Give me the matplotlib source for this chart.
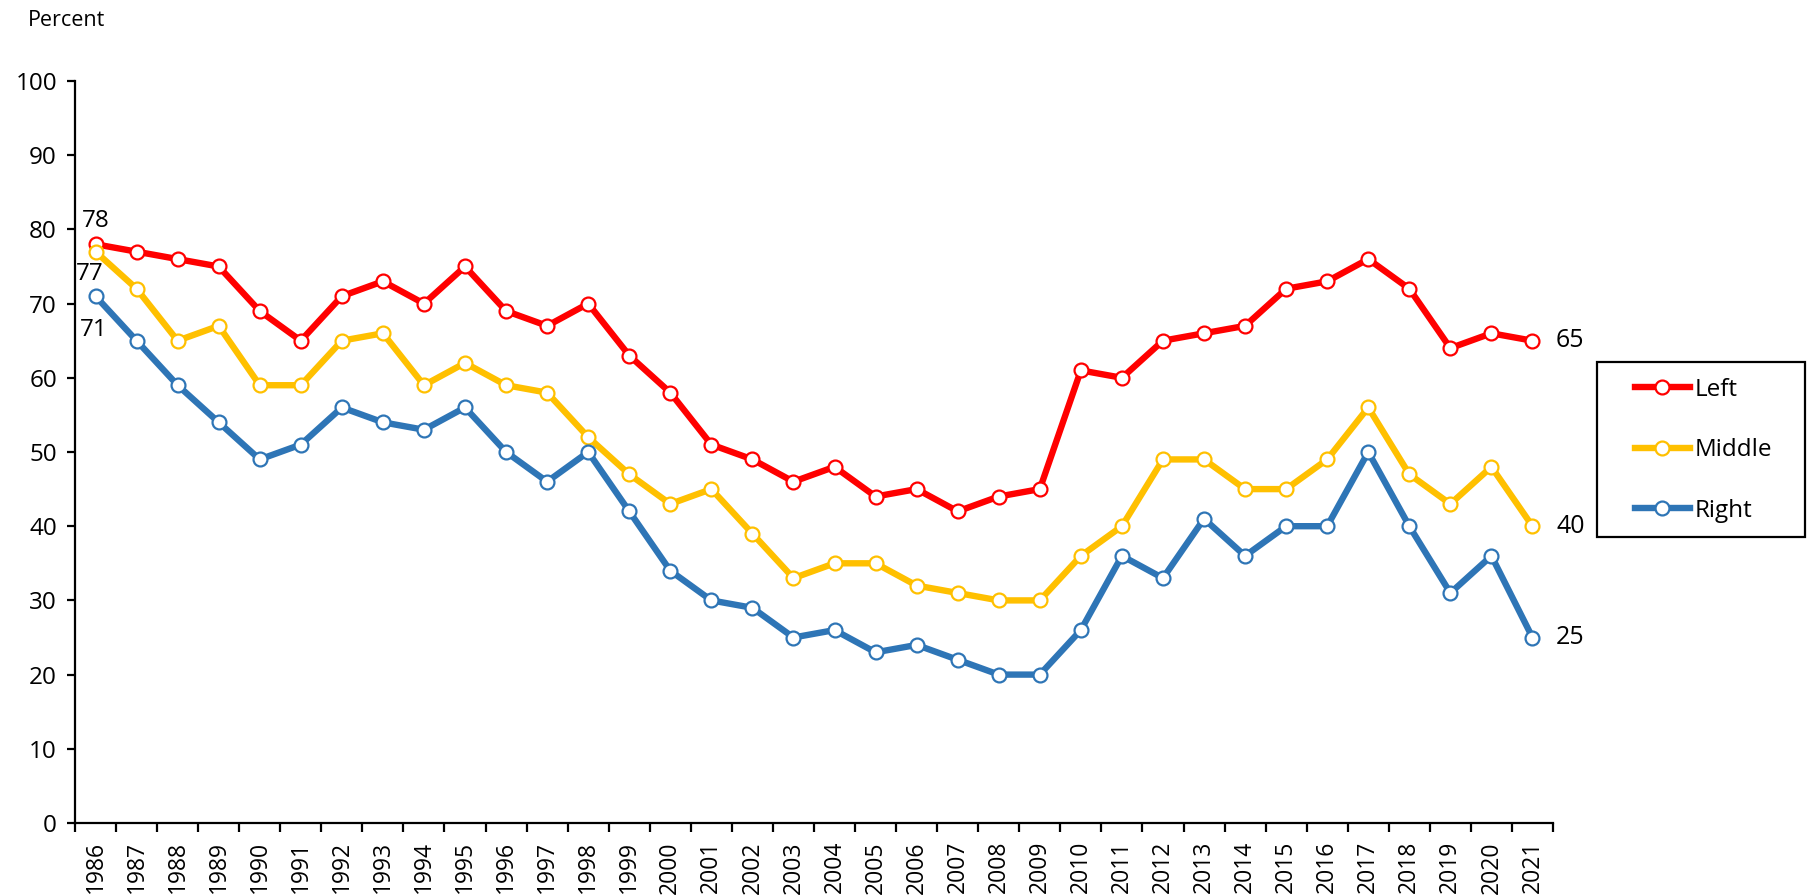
import numpy as np
import matplotlib.pyplot as plt
from matplotlib.patches import Rectangle

plt.rcParams['font.family'] = ['Open Sans', 'DejaVu Sans']

years = list(range(1986, 2022))
left = [78, 77, 76, 75, 69, 65, 71, 73, 70, 75, 69, 67, 70, 63, 58, 51, 49, 46,
        48, 44, 45, 42, 44, 45, 61, 60, 65, 66, 67, 72, 73, 76, 72, 64, 66, 65]
middle = [77, 72, 65, 67, 59, 59, 65, 66, 59, 62, 59, 58, 52, 47, 43, 45, 39, 33,
          35, 35, 32, 31, 30, 30, 36, 40, 49, 49, 45, 45, 49, 56, 47, 43, 48, 40]
right = [71, 65, 59, 54, 49, 51, 56, 54, 53, 56, 50, 46, 50, 42, 34, 30, 29, 25,
         26, 23, 24, 22, 20, 20, 26, 36, 33, 41, 36, 40, 40, 50, 40, 31, 36, 25]

series = [("Left", left, "#FF0000"),
          ("Middle", middle, "#FFC000"),
          ("Right", right, "#2E75B6")]

W, H = 1807, 896
fig = plt.figure(figsize=(W / 100, H / 100), dpi=100)
ax = fig.add_axes([75 / W, 1 - 823 / H, (1553 - 75) / W, (823 - 81) / H])

x = np.arange(len(years))
handles = []
for name, vals, col in series:
    h, = ax.plot(x, vals, color=col, lw=4.6, marker='o', ms=10,
                 mfc='white', mec=col, mew=1.6, label=name, zorder=3)
    handles.append(h)

ax.set_xlim(-0.5, len(years) - 0.5)
ax.set_ylim(0, 100)
ax.set_yticks(range(0, 101, 10))
ax.set_xticks(x)
ax.set_xticklabels([str(y) for y in years], rotation=90)
ax.set_xticks(np.arange(-0.5, len(years), 1), minor=True)
ax.tick_params(axis='x', which='major', length=0, pad=13, labelsize=16.5)
ax.tick_params(axis='x', which='minor', length=6.5, width=1.6, direction='out')
ax.tick_params(axis='y', length=6, width=1.6, direction='out', labelsize=17.5, pad=7)
for s in ['top', 'right']:
    ax.spines[s].set_visible(False)
for s in ['left', 'bottom']:
    ax.spines[s].set_linewidth(1.6)

# start labels
ax.annotate(str(left[0]), (0, left[0]), xytext=(0, 8), textcoords='offset points',
            ha='center', va='bottom', fontsize=17.5)
ax.annotate(str(middle[0]), (0, middle[0]), xytext=(-4, -16), textcoords='offset points',
            ha='center', va='center', fontsize=17.5)
ax.annotate(str(right[0]), (0, right[0]), xytext=(-1, -24), textcoords='offset points',
            ha='center', va='center', fontsize=17.5)

# end labels
for name, vals, col in series:
    ax.annotate(str(vals[-1]), (x[-1], vals[-1]), xytext=(17, 0),
                textcoords='offset points', ha='left', va='center', fontsize=18)

fig.text(28 / W, 1 - 20 / H, "Percent", ha='left', va='center', fontsize=15.5)

# legend box
fig.patches.append(Rectangle((1597 / W, 1 - 537 / H), (1805 - 1597) / W, (537 - 362) / H,
                             transform=fig.transFigure, fill=False, ec='black', lw=1.6))
fig.legend(handles=handles, loc='upper left', bbox_to_anchor=(1625 / W, 1 - 368 / H),
           frameon=False, fontsize=17.5, handlelength=2.26, labelspacing=1.5,
           handletextpad=0.2, borderaxespad=0)

fig.savefig("out.png", dpi=100)
